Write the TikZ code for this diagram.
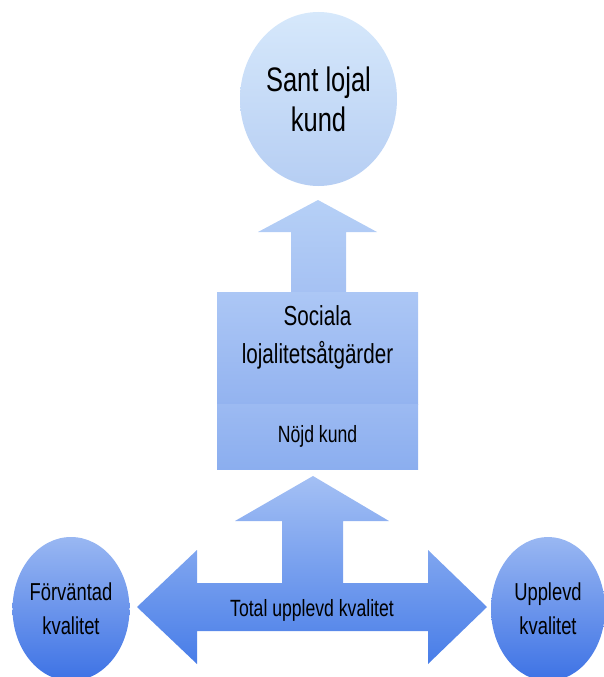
\documentclass[tikz,border=0pt]{standalone}
\usepackage{fontspec}
\setmainfont{Liberation Sans}[FakeStretch=0.75]
\usetikzlibrary{shapes.geometric, positioning, calc}

\definecolor{paletop}{HTML}{D6E8FB}
\definecolor{palebot}{HTML}{B6CEF3}
\definecolor{arrtop}{HTML}{B6D0F6}
\definecolor{arrbot}{HTML}{A5C1F3}
\definecolor{boxtop}{HTML}{ACC7F5}
\definecolor{boxmid}{HTML}{93B3F0}
\definecolor{nojdtop}{HTML}{9CBAF2}
\definecolor{nojdbot}{HTML}{8BAEEF}
\definecolor{lowtop}{HTML}{A4C0F4}
\definecolor{lowbot}{HTML}{487DE8}
\definecolor{circtop}{HTML}{99B7F2}
\definecolor{circbot}{HTML}{3D72E5}

\begin{document}
\begin{tikzpicture}[x=1pt, y=-1pt, line join=round,
    topcirc/.style={ellipse, minimum width=157pt, minimum height=174pt, inner sep=0pt,
      top color=paletop, bottom color=palebot, align=center, font=\fontsize{34}{40}\selectfont},
    botcirc/.style={ellipse, minimum width=114pt, minimum height=144pt, inner sep=0pt,
      top color=circtop, bottom color=circbot, align=center, font=\fontsize{24.5}{34}\selectfont},
    socbox/.style={rectangle, minimum width=201pt, minimum height=112pt, inner sep=0pt,
      top color=boxtop, bottom color=boxmid},
    nojdbox/.style={rectangle, minimum width=201pt, minimum height=65pt, inner sep=0pt,
      top color=nojdtop, bottom color=nojdbot, font=\fontsize{23.5}{26}\selectfont}]
  \useasboundingbox (0,0) rectangle (604,677);

  % upper arrow
  \coordinate (U) at (318,200);
  \shade[top color=arrtop, bottom color=arrbot]
    (U) -- (377,232) -- (346,232) -- (346,293) -- (291,293) -- (291,232) -- (258,232) -- cycle;

  % lower arrows
  \coordinate (V) at (313,476);
  \coordinate (L) at (137,607);
  \coordinate (R) at (487,607);
  \shade[top color=lowtop, bottom color=lowbot]
    (V) -- (389,521) -- (343,521) -- (343,583) -- (428,583) -- (428,550) -- (R)
    -- (428,664) -- (428,631) -- (197,631) -- (197,664) -- (L) -- (197,550)
    -- (197,583) -- (282,583) -- (282,521) -- (235,521) -- cycle;

  \node[topcirc] (lojal) at (318.5,99) {Sant lojal\\kund};
  \node[socbox] (sociala) at (317.5,348) {};
  \node[align=center, font=\fontsize{27.5}{38}\selectfont] (soctext) at ($(sociala)+(0,-11)$) {Sociala\\lojalitetsåtgärder};
  \node[nojdbox, below=0pt of sociala] (nojd) {Nöjd kund};
  \node[font=\fontsize{23.5}{26}\selectfont] (total) at (312,610) {Total upplevd kvalitet};
  \node[botcirc] (forv) at (71,609) {Förväntad\\kvalitet};
  \node[botcirc] (uppl) at (548,609) {Upplevd\\kvalitet};
\end{tikzpicture}
\end{document}
